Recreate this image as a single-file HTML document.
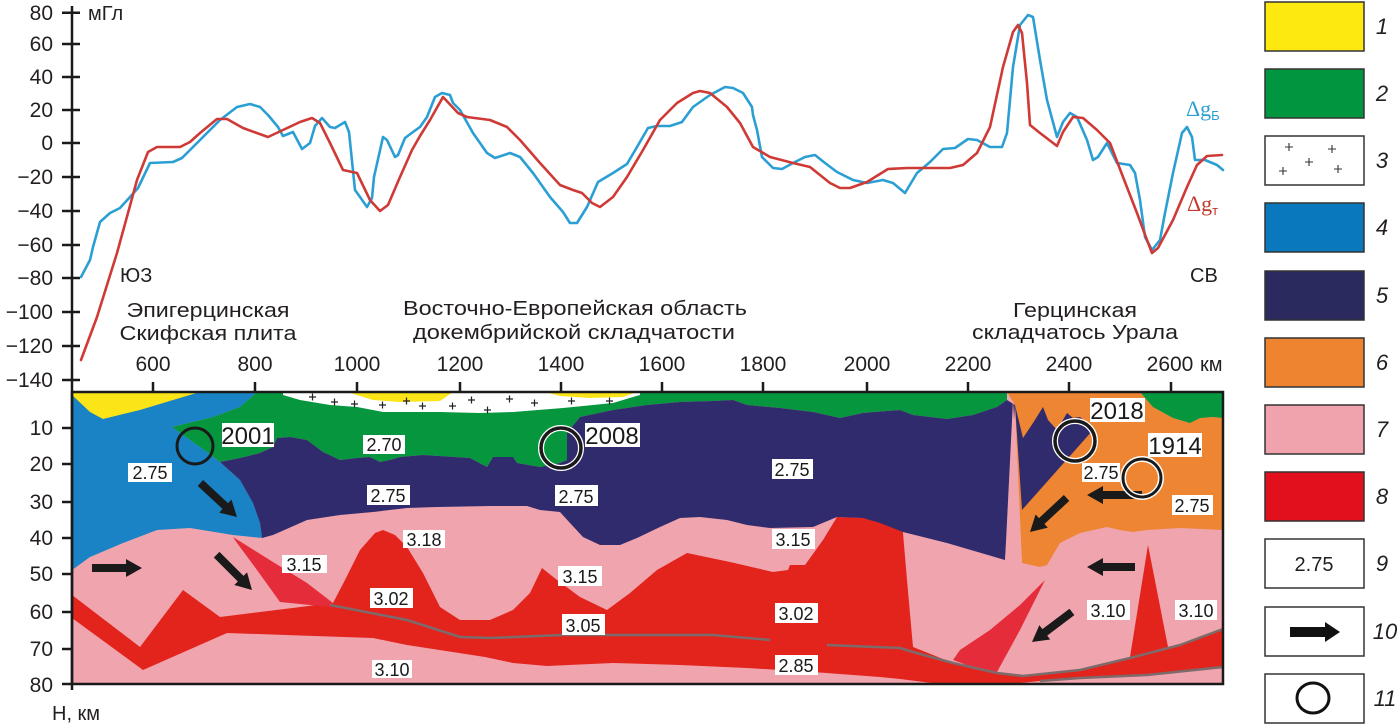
<!DOCTYPE html>
<html><head><meta charset="utf-8"><style>
html,body{margin:0;padding:0;background:#fff;}
svg{display:block;font-family:"Liberation Sans",sans-serif;}
</style></head><body>
<svg width="1400" height="725" viewBox="0 0 1400 725" xmlns="http://www.w3.org/2000/svg">
<rect width="1400" height="725" fill="#fff"/>

<!-- ===== SECTION ===== -->
<rect x="72" y="392" width="1151" height="292" fill="#f0a4ad"/>
<!-- big red -->
<polygon fill="#e2241d" points="72,595 140,647 183,590 220,617 333,603 345,580 360,550 375,533 383,530 395,535 407,547 423,573 440,607 460,620 490,620 513,610 530,593 542,568 557,580 580,597 607,610 630,593 657,570 687,553 730,562 773,572 788,570 790,565 805,565 823,540 837,517 863,518 902,527 903,533 907,580 913,647 953,663 997,673 1023,676 1080,670 1130,658 1180,645 1223,629 1223,667 1147,675 1080,678 1040,681 1010,684 940,684 900,679 880,677 813,672 747,668 680,665 613,663 547,666 513,663 485,657 407,645 373,638 227,633 143,670 72,618"/>
<!-- wedges -->
<polygon fill="#e52c3a" points="233,537 273,562 307,583 333,603 330,607 280,602 257,570 237,543"/>
<polygon fill="#e52c3a" points="1045,580 1020,605 990,630 960,650 953,660 975,668 997,672 1020,630"/>
<polygon fill="#e2241d" points="1148,545 1130,657 1168,647"/>
<!-- blue -->
<polygon fill="#1983c5" points="72,392 257,392 240,407 213,417 172,427 207,452 220,462 240,480 253,503 260,523 262,538 233,535 190,528 157,530 123,543 90,557 72,570"/>
<!-- yellow -->
<polygon fill="#fbe417" points="72,392 200,392 173,400 140,410 103,419 90,412 72,395"/>
<!-- green -->
<polygon fill="#06963e" points="257,392 1007,392 1007,400 997,407 973,415 947,419 913,415 900,410 863,413 840,418 813,412 780,408 747,405 733,400 713,401 680,402 647,405 613,410 580,417 567,433 567,460 560,463 540,467 517,463 513,457 493,457 487,467 470,458 423,455 400,457 390,460 380,462 370,457 357,458 340,460 323,452 307,440 290,437 277,438 273,447 260,453 240,458 220,462 207,452 172,427 213,417 240,407"/>
<!-- navy main -->
<polygon fill="#302b6d" points="220,462 240,458 260,453 273,447 277,438 290,437 307,440 323,452 340,460 357,458 370,457 380,462 390,460 400,457 423,455 470,458 487,467 493,457 513,457 517,463 540,467 560,463 567,460 567,433 580,417 613,410 647,405 680,402 713,401 733,400 747,405 780,408 813,412 840,418 863,413 900,410 913,415 947,419 973,415 997,407 1007,400 1015,405 1005,560 947,543 903,532 880,523 863,518 837,517 813,527 770,528 747,525 727,520 700,517 680,518 660,527 637,538 620,545 600,545 583,537 570,523 560,512 540,510 527,506 490,506 437,507 407,508 373,512 340,515 307,520 273,535 262,538 260,523 253,503 240,480"/>
<!-- white crosses region -->
<polygon fill="#fff" points="283,392 640,392 640,395 613,403 563,408 513,412 480,413 440,412 383,412 357,407 330,405 300,400 283,395"/>
<polygon fill="#fbe417" points="347,392 453,392 440,401 400,402 373,400"/>
<polygon fill="#fbe417" points="545,392 637,392 623,397 590,398 560,396"/>
<g stroke="#222" stroke-width="1.2">
<path d="M309,397h7M312.5,393.5v7"/><path d="M331,402h7M334.5,398.5v7"/><path d="M351,404h7M354.5,400.5v7"/>
<path d="M379,405h7M382.5,401.5v7"/><path d="M403,401h7M406.5,397.5v7"/><path d="M419,406h7M422.5,402.5v7"/>
<path d="M449,406h7M452.5,402.5v7"/><path d="M468,400h7M471.5,396.5v7"/><path d="M484,410h7M487.5,406.5v7"/>
<path d="M506,399h7M509.5,395.5v7"/><path d="M531,403h7M534.5,399.5v7"/><path d="M568,401h7M571.5,397.5v7"/>
<path d="M606,401h7M609.5,397.5v7"/>
</g>
<!-- orange -->
<polygon fill="#ee8532" points="1007,392 1140,392 1153,407 1173,418 1190,423 1200,418 1213,417 1223,418 1223,530 1180,528 1147,530 1133,532 1120,530 1107,527 1080,533 1060,543 1047,565 1040,567 1022,563 1015,405"/>
<!-- navy right -->
<polygon fill="#302b6d" points="1015,405 1023,438 1033,423 1043,407 1048,420 1057,430 1067,413 1073,418 1080,417 1087,423 1093,430 1022,510"/>
<!-- pink spike -->
<polygon fill="#f0a4ad" points="1013,400 1022,563 1005,562"/>
<!-- green top right -->
<polygon fill="#06963e" points="1140,392 1223,392 1223,418 1213,417 1200,418 1190,423 1173,418 1153,407"/>
<!-- gray lines -->
<g fill="none" stroke="#7d6b6b" stroke-width="2.5" stroke-linejoin="round">
<polyline points="330,605 407,620 460,637 490,638 563,635 713,635 770,640"/>
<polyline points="827,645 900,648 913,652 953,663 997,673 1023,676 1080,670 1130,658 1180,645 1223,629"/>
<polyline points="1040,681 1080,678 1147,675 1223,667"/>
</g>

<!-- arrows -->
<g fill="#1a1a1a">
<path d="M-50,-4 L-16,-4 L-16,-9 L0,0 L-16,9 L-16,4 L-50,4 Z" transform="translate(237,517) rotate(43)"/>
<path d="M-50,-4 L-16,-4 L-16,-9 L0,0 L-16,9 L-16,4 L-50,4 Z" transform="translate(142,568)"/>
<path d="M-50,-4 L-16,-4 L-16,-9 L0,0 L-16,9 L-16,4 L-50,4 Z" transform="translate(252,590) rotate(45)"/>
<path d="M-55,-4 L-16,-4 L-16,-9 L0,0 L-16,9 L-16,4 L-55,4 Z" transform="translate(1087,495) rotate(180)"/>
<path d="M-50,-4 L-16,-4 L-16,-9 L0,0 L-16,9 L-16,4 L-50,4 Z" transform="translate(1030,532) rotate(137)"/>
<path d="M-48,-4 L-16,-4 L-16,-9 L0,0 L-16,9 L-16,4 L-48,4 Z" transform="translate(1087,567) rotate(180)"/>
<path d="M-50,-4 L-16,-4 L-16,-9 L0,0 L-16,9 L-16,4 L-50,4 Z" transform="translate(1032,642) rotate(143)"/>
</g>

<!-- circles -->
<circle cx="195" cy="446" r="18" fill="none" stroke="#1a1a1a" stroke-width="3"/>
<g fill="none">
<circle cx="561" cy="448" r="20" stroke="#fff" stroke-width="6"/><circle cx="561" cy="448" r="20" stroke="#1a1a1a" stroke-width="3.5"/>
<circle cx="1075" cy="441" r="20" stroke="#fff" stroke-width="6"/><circle cx="1075" cy="441" r="20" stroke="#1a1a1a" stroke-width="3.5"/>
<circle cx="1142" cy="478" r="19" stroke="#fff" stroke-width="6"/><circle cx="1142" cy="478" r="19" stroke="#1a1a1a" stroke-width="3"/>
</g>

<!-- labels -->
<g fill="#fff">
<rect x="222" y="423" width="52" height="24"/><rect x="585" y="423" width="55" height="24"/>
<rect x="1090" y="398" width="55" height="24"/><rect x="1148" y="433" width="54" height="24"/>
<rect x="128" y="463" width="44" height="19"/><rect x="363" y="435" width="42" height="19"/>
<rect x="367" y="485" width="43" height="20"/><rect x="403" y="530" width="42" height="18"/>
<rect x="282" y="555" width="45" height="18"/><rect x="370" y="588" width="43" height="20"/>
<rect x="372" y="660" width="40" height="18"/><rect x="555" y="485" width="43" height="21"/>
<rect x="772" y="459" width="41" height="20"/><rect x="772" y="529" width="43" height="20"/>
<rect x="558" y="566" width="44" height="20"/><rect x="562" y="614" width="43" height="21"/>
<rect x="775" y="603" width="43" height="20"/><rect x="775" y="655" width="43" height="20"/>
<rect x="1082" y="463" width="38" height="19"/><rect x="1172" y="495" width="41" height="20"/>
<rect x="1087" y="600" width="43" height="20"/><rect x="1175" y="600" width="42" height="20"/>
</g>
<g fill="#1a1a1a" font-size="24" text-anchor="middle">
<text x="248" y="444">2001</text><text x="612" y="444">2008</text>
<text x="1117" y="419">2018</text><text x="1175" y="454">1914</text>
</g>
<g fill="#1a1a1a" font-size="18" text-anchor="middle">
<text x="150" y="479">2.75</text><text x="384" y="451">2.70</text>
<text x="388" y="502">2.75</text><text x="424" y="546">3.18</text>
<text x="304" y="571">3.15</text><text x="391" y="605">3.02</text>
<text x="392" y="676">3.10</text><text x="576" y="503">2.75</text>
<text x="792" y="476">2.75</text><text x="793" y="546">3.15</text>
<text x="580" y="583">3.15</text><text x="583" y="632">3.05</text>
<text x="796" y="620">3.02</text><text x="796" y="672">2.85</text>
<text x="1101" y="479">2.75</text><text x="1192" y="512">2.75</text>
<text x="1108" y="617">3.10</text><text x="1196" y="617">3.10</text>
</g>

<!-- section frame -->
<rect x="72" y="392" width="1151" height="292" fill="none" stroke="#1a1a1a" stroke-width="2.5"/>
<!-- axes -->
<g stroke="#1a1a1a" stroke-width="2.5">
<line x1="72" y1="6" x2="72" y2="690"/>
<line x1="62" y1="12.7" x2="80" y2="12.7"/><line x1="62" y1="44" x2="80" y2="44"/>
<line x1="62" y1="77" x2="80" y2="77"/><line x1="62" y1="110" x2="80" y2="110"/>
<line x1="62" y1="143" x2="80" y2="143"/><line x1="62" y1="177" x2="80" y2="177"/>
<line x1="62" y1="211" x2="80" y2="211"/><line x1="62" y1="245" x2="80" y2="245"/>
<line x1="62" y1="278" x2="80" y2="278"/><line x1="62" y1="312" x2="80" y2="312"/>
<line x1="62" y1="346" x2="80" y2="346"/><line x1="62" y1="380" x2="80" y2="380"/>
<line x1="62" y1="428" x2="72" y2="428"/><line x1="62" y1="464" x2="72" y2="464"/>
<line x1="62" y1="502" x2="72" y2="502"/><line x1="62" y1="538" x2="72" y2="538"/>
<line x1="62" y1="574" x2="72" y2="574"/><line x1="62" y1="612" x2="72" y2="612"/>
<line x1="62" y1="649" x2="72" y2="649"/><line x1="62" y1="684" x2="72" y2="684"/>
<line x1="153" y1="382" x2="153" y2="392"/><line x1="255" y1="382" x2="255" y2="392"/>
<line x1="357" y1="382" x2="357" y2="392"/><line x1="460" y1="382" x2="460" y2="392"/>
<line x1="561" y1="382" x2="561" y2="392"/><line x1="662" y1="382" x2="662" y2="392"/>
<line x1="763" y1="382" x2="763" y2="392"/><line x1="867" y1="382" x2="867" y2="392"/>
<line x1="968" y1="382" x2="968" y2="392"/><line x1="1069" y1="382" x2="1069" y2="392"/>
<line x1="1171" y1="382" x2="1171" y2="392"/>
</g>
<g fill="#231f20" font-size="21" text-anchor="end">
<text x="53" y="20">80</text><text x="53" y="51">60</text><text x="53" y="84">40</text>
<text x="53" y="117">20</text><text x="53" y="150">0</text><text x="53" y="184">−20</text>
<text x="53" y="218">−40</text><text x="53" y="252">−60</text><text x="53" y="285">−80</text>
<text x="53" y="319">−100</text><text x="53" y="353">−120</text><text x="53" y="387">−140</text>
<text x="53" y="435">10</text><text x="53" y="471">20</text><text x="53" y="509">30</text>
<text x="53" y="545">40</text><text x="53" y="581">50</text><text x="53" y="619">60</text>
<text x="53" y="656">70</text><text x="53" y="692">80</text>
</g>
<g fill="#231f20" font-size="21" text-anchor="middle">
<text x="153" y="371">600</text><text x="255" y="371">800</text><text x="357" y="371">1000</text>
<text x="460" y="371">1200</text><text x="561" y="371">1400</text><text x="662" y="371">1600</text>
<text x="763" y="371">1800</text><text x="867" y="371">2000</text><text x="968" y="371">2200</text>
<text x="1069" y="371">2400</text><text x="1170" y="371">2600</text>
</g>
<g fill="#231f20" font-size="20">
<text x="1200" y="371">км</text>
<text x="88" y="20">мГл</text>
<text x="52" y="720">Н, км</text>
<text x="120" y="282">ЮЗ</text>
<text x="1190" y="282">СВ</text>
</g>
<g fill="#231f20" font-size="20" text-anchor="middle">
<text x="208" y="317" textLength="163" lengthAdjust="spacingAndGlyphs">Эпигерцинская</text>
<text x="208" y="340" textLength="177" lengthAdjust="spacingAndGlyphs">Скифская плита</text>
<text x="575" y="315" textLength="344" lengthAdjust="spacingAndGlyphs">Восточно-Европейская область</text>
<text x="574" y="339" textLength="322" lengthAdjust="spacingAndGlyphs">докембрийской складчатости</text>
<text x="1075" y="317" textLength="124" lengthAdjust="spacingAndGlyphs">Герцинская</text>
<text x="1075" y="339" textLength="206" lengthAdjust="spacingAndGlyphs">складчатось Урала</text>
</g>

<!-- curves -->
<g fill="none" stroke-width="2.6" stroke-linejoin="round" stroke-linecap="round">
<polyline stroke="#2b9fd4" points="81,277 90,260 93,247 100,222 110,213 120,208 130,197 138,188 150,163 173,162 182,158 200,140 220,120 237,107 250,104 260,107 268,115 278,127 283,136 293,132 302,149 310,143 315,126 322,118 330,127 335,128 345,122 349,132 355,190 360,197 367,207 372,198 374,177 383,137 387,140 395,157 398,155 405,138 413,132 420,127 427,117 435,97 442,93 450,95 453,103 460,110 473,133 487,153 495,158 510,153 520,157 533,173 550,197 563,212 570,223 577,223 587,207 598,182 613,173 627,164 637,147 648,128 657,126 670,126 682,122 693,107 710,95 725,87 733,88 743,93 752,107 753,115 757,130 762,157 773,168 782,169 793,163 805,157 815,155 825,163 837,172 853,180 867,183 883,180 893,183 905,193 917,173 930,162 943,149 955,148 968,139 977,140 990,147 1002,147 1007,133 1013,67 1020,25 1028,15 1033,17 1040,60 1047,100 1057,137 1063,122 1070,113 1077,117 1087,140 1093,160 1098,157 1107,143 1117,163 1130,165 1135,173 1140,200 1145,237 1152,250 1160,240 1165,213 1173,173 1182,133 1187,127 1192,137 1195,160 1205,160 1217,165 1223,170"/>
<polyline stroke="#cf3a36" points="81,360 97,317 117,253 128,213 137,180 148,152 157,147 180,147 190,142 200,133 217,119 227,119 243,128 268,137 283,130 300,122 312,118 320,123 330,143 343,170 357,173 370,200 380,211 388,205 400,177 412,150 420,136 430,120 443,97 458,113 467,117 490,120 507,127 520,140 540,163 560,185 573,190 582,193 592,203 600,207 613,197 627,177 643,150 660,120 677,103 693,93 700,91 710,93 727,107 740,123 753,147 770,157 793,163 810,167 830,183 840,188 850,188 867,182 888,169 907,168 950,168 963,165 977,153 990,127 1003,67 1013,32 1018,25 1022,33 1027,83 1030,125 1040,133 1057,146 1063,132 1073,117 1083,118 1097,130 1110,143 1123,177 1137,213 1147,240 1152,253 1158,248 1173,220 1187,187 1197,165 1207,156 1222,155"/>
</g>
<text x="1186" y="116" font-family="Liberation Serif, serif" font-size="22" fill="#2b9fd4">Δg<tspan font-size="13" dy="4" font-family="Liberation Sans, sans-serif">Б</tspan></text>
<text x="1187" y="211" font-family="Liberation Serif, serif" font-size="22" fill="#c0392b">Δg<tspan font-size="13" dy="4" font-family="Liberation Sans, sans-serif">т</tspan></text>

<!-- ===== LEGEND ===== -->
<g stroke="#333" stroke-width="1.5">
<rect x="1265" y="2" width="99" height="49" fill="#fde910"/>
<rect x="1265" y="69" width="99" height="49" fill="#00963f"/>
<rect x="1265" y="136" width="99" height="49" fill="#fff"/>
<rect x="1265" y="203" width="99" height="49" fill="#0a78bc"/>
<rect x="1265" y="271" width="99" height="49" fill="#2b2a5f"/>
<rect x="1265" y="338" width="99" height="49" fill="#ee8330"/>
<rect x="1265" y="405" width="99" height="49" fill="#f0a3ac"/>
<rect x="1265" y="472" width="99" height="49" fill="#e20f1c"/>
<rect x="1265" y="539" width="99" height="49" fill="#fff"/>
<rect x="1265" y="607" width="99" height="49" fill="#fff"/>
<rect x="1265" y="674" width="99" height="49" fill="#fff"/>
</g>
<g stroke="#333" stroke-width="1.1">
<path d="M1285,147h8M1289,143v8"/><path d="M1328,149h8M1332,145v8"/><path d="M1305,162h8M1309,158v8"/>
<path d="M1279,171h8M1283,167v8"/><path d="M1334,169h8M1338,165v8"/>
</g>
<text x="1314" y="571" font-size="20" text-anchor="middle" fill="#231f20">2.75</text>
<path d="M1290,627 L1325,627 L1325,622 L1340,632 L1325,642 L1325,637 L1290,637 Z" fill="#111"/>
<ellipse cx="1313" cy="698" rx="16" ry="15" fill="none" stroke="#111" stroke-width="3"/>
<g fill="#231f20" font-size="22" font-style="italic" text-anchor="middle">
<text x="1382" y="34">1</text><text x="1382" y="101">2</text><text x="1382" y="168">3</text>
<text x="1382" y="235">4</text><text x="1382" y="303">5</text><text x="1382" y="370">6</text>
<text x="1382" y="437">7</text><text x="1382" y="504">8</text><text x="1382" y="571">9</text>
<text x="1385" y="639">10</text><text x="1385" y="706">11</text>
</g>
</svg>
</body></html>
